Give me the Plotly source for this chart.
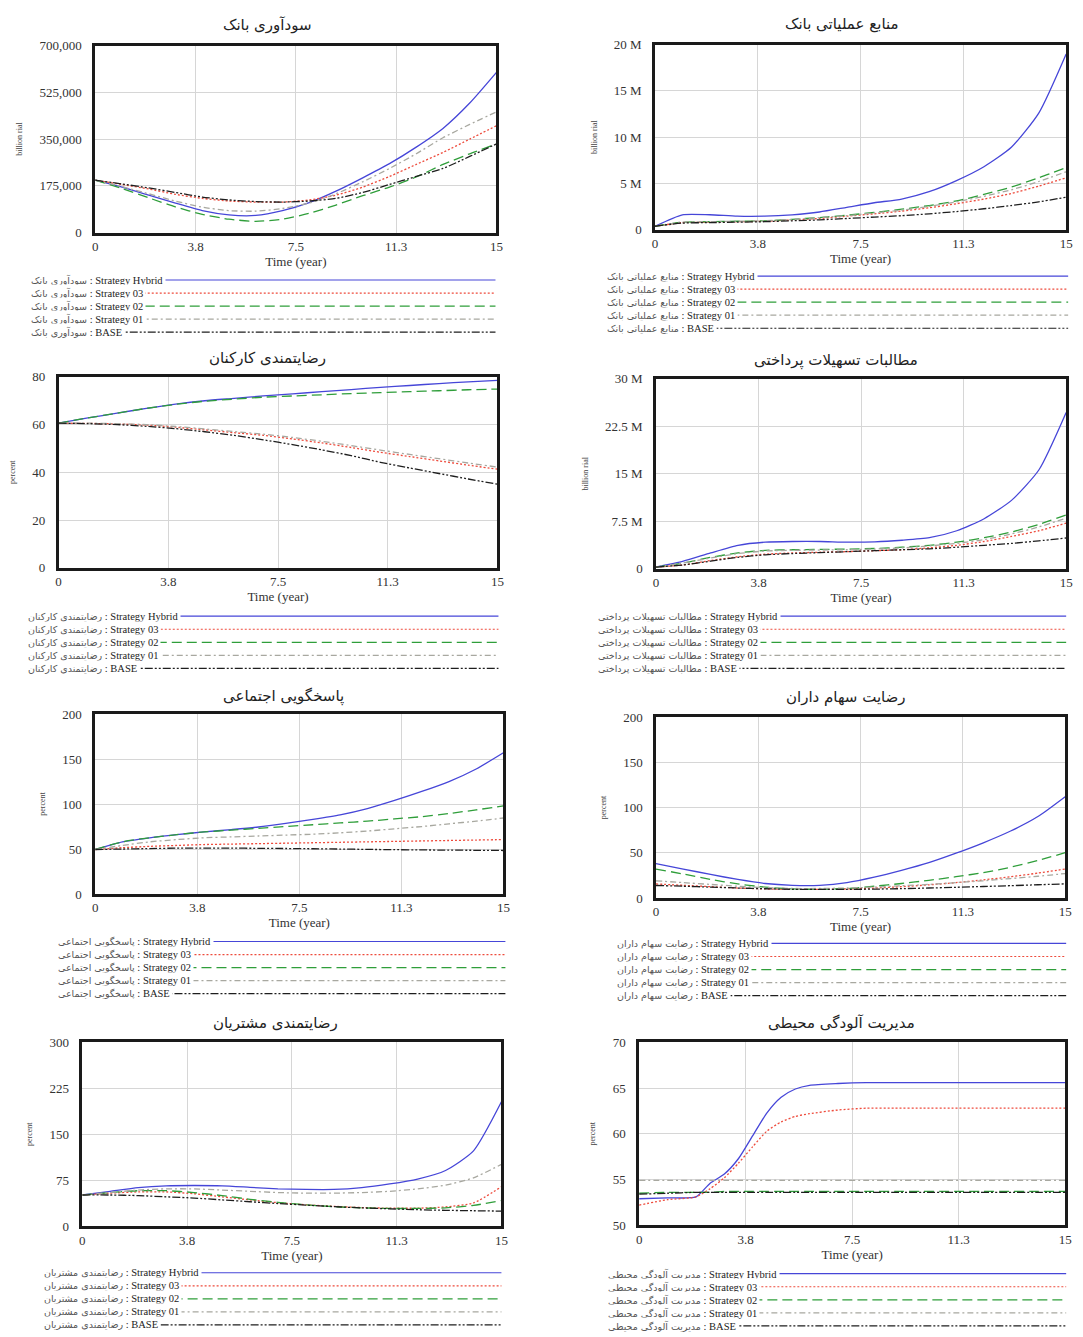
import plotly.graph_objects as go

# ---------------- data ----------------
time = [0, 1, 2, 3, 4, 5, 6, 7, 8, 9, 10, 11, 12, 13, 14, 15]
time_env = [0, 1, 2, 2.5, 3, 3.5, 4, 4.5, 5, 5.5, 6, 7, 8, 9, 10, 11, 12, 13, 14, 15]

series_names = ["Strategy Hybrid", "Strategy 03", "Strategy 02", "Strategy 01", "BASE"]

titles = [
    "سودآوری بانک",
    "منابع عملیاتی بانک",
    "رضایتمندی کارکنان",
    "مطالبات تسهیلات پرداختی",
    "پاسخگویی اجتماعی",
    "رضایت سهام داران",
    "رضایتمندی مشتریان",
    "مدیریت آلودگی محیطی",
]
y_units = ["billion rial", "billion rial", "percent", "billion rial",
           "percent", "percent", "percent", "percent"]

# 1  bank profitability (thousand)
profit_hybrid = [196, 170, 140, 110, 82, 66, 64, 82, 112, 155, 205, 258, 320, 390, 485, 600]
profit_s03 = [196, 180, 163, 143, 128, 118, 114, 114, 122, 140, 170, 210, 255, 300, 350, 400]
profit_s02 = [196, 165, 130, 96, 68, 50, 42, 50, 72, 103, 138, 170, 208, 255, 295, 332]
profit_s01 = [196, 172, 145, 118, 95, 82, 80, 90, 110, 145, 190, 240, 295, 355, 405, 452]
profit_base = [196, 182, 167, 150, 133, 122, 116, 114, 118, 128, 150, 180, 210, 240, 285, 332]

# 2  operating resources (million)
res_hybrid = [0.36, 1.6, 1.6, 1.45, 1.45, 1.6, 1.9, 2.4, 2.9, 3.3, 4.1, 5.3, 6.8, 8.9, 12.6, 19.0]
res_s03 = [0.36, 0.75, 0.8, 0.85, 0.9, 1.05, 1.2, 1.45, 1.7, 2.0, 2.35, 2.8, 3.3, 3.9, 4.7, 5.6]
res_s02 = [0.36, 0.8, 0.85, 0.9, 0.95, 1.1, 1.3, 1.55, 1.85, 2.2, 2.6, 3.1, 3.8, 4.6, 5.6, 6.7]
res_s01 = [0.36, 0.8, 0.85, 0.9, 0.95, 1.1, 1.3, 1.5, 1.8, 2.1, 2.5, 3.0, 3.6, 4.3, 5.2, 6.25]
res_base = [0.36, 0.7, 0.75, 0.8, 0.85, 0.95, 1.05, 1.2, 1.35, 1.5, 1.7, 1.95, 2.25, 2.6, 3.0, 3.5]

# 3  employee satisfaction
emp_hybrid = [60.6, 62.8, 64.8, 66.8, 68.6, 70, 71, 72, 72.9, 73.8, 74.7, 75.6, 76.4, 77.2, 77.9, 78.5]
emp_s03 = [60.6, 60.5, 60.3, 59.8, 58.9, 57.8, 56.6, 55.5, 54, 52.3, 50.4, 48.4, 46.6, 44.8, 43, 41.3]
emp_s02 = [60.6, 62.8, 64.8, 66.8, 68.5, 69.8, 70.7, 71.5, 72, 72.5, 73, 73.4, 73.8, 74.2, 74.6, 74.9]
emp_s01 = [60.6, 60.6, 60.4, 60, 59.2, 58.2, 57.1, 56, 54.6, 53, 51.2, 49.3, 47.5, 45.7, 43.9, 42.2]
emp_base = [60.6, 60.4, 60, 59.3, 58.3, 57, 55.5, 53.6, 51.6, 49.4, 47, 44.2, 41.8, 39.5, 37.2, 35]

# 4  receivables of paid facilities (million)
rec_hybrid = [0.26, 1.2, 2.5, 3.7, 4.2, 4.3, 4.3, 4.2, 4.25, 4.5, 4.9, 6.0, 7.9, 10.8, 15.6, 24.7]
rec_s03 = [0.26, 0.6, 1.3, 1.9, 2.3, 2.5, 2.6, 2.7, 2.85, 3.0, 3.3, 3.7, 4.3, 5.1, 6.0, 7.2]
rec_s02 = [0.26, 0.9, 1.8, 2.5, 2.9, 3.0, 3.05, 3.1, 3.2, 3.4, 3.7, 4.2, 4.9, 5.8, 7.0, 8.5]
rec_s01 = [0.26, 0.9, 1.7, 2.4, 2.8, 2.9, 2.95, 3.0, 3.1, 3.3, 3.6, 4.0, 4.6, 5.5, 6.6, 8.0]
rec_base = [0.26, 0.6, 1.2, 1.8, 2.2, 2.4, 2.55, 2.7, 2.85, 3.0, 3.15, 3.4, 3.7, 4.0, 4.4, 4.85]

# 5  social responsibility
soc_hybrid = [49.5, 58, 62.5, 66, 69, 71.6, 74.5, 78.5, 83, 88, 95, 104, 114, 125, 139, 157]
soc_s03 = [49.5, 51.5, 53, 54, 55, 55.5, 56, 56.5, 57, 57.5, 58, 58.5, 59, 59.5, 60, 60.5]
soc_s02 = [49.5, 58, 62.5, 66, 69, 71, 73, 75, 77, 79, 81, 83.5, 86, 89.5, 93.5, 98]
soc_s01 = [49.5, 54, 58, 60.5, 62.5, 63.5, 64.5, 65.5, 66.5, 68, 70, 72.5, 75, 78, 81, 84.5]
soc_base = [49.5, 50, 50.5, 51, 51, 51, 50.8, 50.6, 50.3, 50, 49.6, 49.3, 49, 48.8, 48.6, 48.4]

# 6  shareholder satisfaction
sh_hybrid = [38, 32, 26, 20.5, 16, 14, 14, 17, 23, 30.5, 39, 49.5, 61, 74, 90, 112]
sh_s03 = [15.5, 14, 12.5, 11, 10, 9.5, 9.5, 10, 11, 12.5, 14.5, 17, 20, 23.5, 27.5, 32]
sh_s02 = [32, 26.5, 20.5, 15.5, 12, 10, 9.5, 10.5, 13, 16, 19.5, 23.5, 28, 34, 41.5, 50]
sh_s01 = [19, 17, 15, 13, 11.5, 10.5, 10.5, 11, 12, 13.5, 15, 17, 19, 21.5, 24, 27]
sh_base = [13.8, 13, 12, 11, 10.2, 9.6, 9.4, 9.5, 9.8, 10.3, 11, 11.8, 12.7, 13.6, 14.6, 15.6]

# 7  customer satisfaction
cus_hybrid = [51, 57, 63, 66, 66.5, 66, 63.5, 61, 60, 60, 63, 69, 77, 91, 123, 203]
cus_s03 = [51, 54, 56, 56, 53, 48, 43, 38.5, 35, 32.5, 30.5, 29.5, 29.5, 31.5, 38, 64.5]
cus_s02 = [51, 55, 58, 58, 55, 50, 44, 39, 35, 32, 30, 29, 29, 30, 34, 42]
cus_s01 = [51, 55, 59, 61, 61, 59, 57, 55, 54, 54, 55, 57, 61, 67, 79, 101]
cus_base = [51, 51, 50, 48, 46, 43, 40, 37, 34.5, 32, 30, 28.5, 27, 26, 25.3, 24.7]

# 8  environmental pollution management
env_hybrid = [52.9, 53.0, 53.1, 54.6, 55.6, 57.3, 59.8, 62.3, 64.0, 64.9, 65.3, 65.5, 65.6,
              65.6, 65.6, 65.6, 65.6, 65.6, 65.6, 65.6]
env_s03 = [52.2, 52.8, 53.1, 54.0, 55.2, 56.8, 58.6, 60.3, 61.3, 61.9, 62.2, 62.6, 62.8,
           62.8, 62.8, 62.8, 62.8, 62.8, 62.8, 62.8]
env_s02 = [53.5, 53.6, 53.6, 53.6, 53.7, 53.7, 53.7, 53.7, 53.7, 53.7, 53.7, 53.7, 53.7,
           53.7, 53.7, 53.7, 53.7, 53.7, 53.7, 53.7]
env_s01 = [54.9, 54.9, 54.9, 54.9, 54.9, 54.9, 54.9, 54.9, 54.9, 54.9, 54.9, 54.9, 54.9,
           54.9, 54.9, 54.9, 54.9, 54.9, 54.9, 54.9]
env_base = [53.4, 53.5, 53.6, 53.6, 53.6, 53.6, 53.6, 53.6, 53.6, 53.6, 53.6, 53.6, 53.6,
            53.6, 53.6, 53.6, 53.6, 53.6, 53.6, 53.6]

x_tickvals = [0, 3.75, 7.5, 11.25, 15]
x_ticktext = ["0", "3.8", "7.5", "11.3", "15"]

y_ticks = [
    ([0, 175, 350, 525, 700], ["0", "175,000", "350,000", "525,000", "700,000"]),
    ([0, 5, 10, 15, 20], ["0", "5 M", "10 M", "15 M", "20 M"]),
    ([0, 20, 40, 60, 80], ["0", "20", "40", "60", "80"]),
    ([0, 7.5, 15, 22.5, 30], ["0", "7.5 M", "15 M", "22.5 M", "30 M"]),
    ([0, 50, 100, 150, 200], ["0", "50", "100", "150", "200"]),
    ([0, 50, 100, 150, 200], ["0", "50", "100", "150", "200"]),
    ([0, 75, 150, 225, 300], ["0", "75", "150", "225", "300"]),
    ([50, 55, 60, 65, 70], ["50", "55", "60", "65", "70"]),
]

panel_series = [
    (time, [profit_hybrid, profit_s03, profit_s02, profit_s01, profit_base]),
    (time, [res_hybrid, res_s03, res_s02, res_s01, res_base]),
    (time, [emp_hybrid, emp_s03, emp_s02, emp_s01, emp_base]),
    (time, [rec_hybrid, rec_s03, rec_s02, rec_s01, rec_base]),
    (time, [soc_hybrid, soc_s03, soc_s02, soc_s01, soc_base]),
    (time, [sh_hybrid, sh_s03, sh_s02, sh_s01, sh_base]),
    (time, [cus_hybrid, cus_s03, cus_s02, cus_s01, cus_base]),
    (time_env, [env_hybrid, env_s03, env_s02, env_s01, env_base]),
]

# ---------------- styles / layout ----------------
W, H = 1083, 1337
PAGE_OFFSET = 8  # default body margin of the html page
colors = ["#4646d8", "#ee4b3c", "#2f9e3a", "#a8a8a0", "#1e1e1e"]
dashes = ["solid", "2px,2px", "10px,5px", "6px,3px,2px,3px", "8px,2px,2px,2px,2px,2px"]

# box (left, right, top, bottom), title centre, legend (text left, first row y, line end)
geo = [
    dict(box=(93, 498, 39, 228), title=(267, 18), leg=(25, 276, 497)),
    dict(box=(658, 1073, 38, 225), title=(847, 17), leg=(607, 272, 1075)),
    dict(box=(56, 499, 374, 567), title=(267, 355), leg=(22, 616, 500)),
    dict(box=(659, 1073, 376, 568), title=(841, 357), leg=(597, 616, 1073)),
    dict(box=(93, 505, 715, 897), title=(283, 697), leg=(52, 945, 507)),
    dict(box=(659, 1072, 718, 901), title=(851, 698), leg=(617, 947, 1073)),
    dict(box=(80, 503, 1047, 1233), title=(275, 1027), leg=(38, 1280, 503)),
    dict(box=(642, 1072, 1047, 1232), title=(846, 1027), leg=(608, 1281, 1073)),
]
row_gap = 13.2

SERIF = "Liberation Serif, DejaVu Sans"


def fx(v):
    return (v - PAGE_OFFSET) / W


def fy(v):
    return 1 - (v - PAGE_OFFSET) / H


fig = go.Figure()
layout = dict(
    width=W, height=H, margin=dict(l=0, r=0, t=0, b=0),
    paper_bgcolor="white", plot_bgcolor="white", showlegend=False,
)
annotations = []
shapes = []

for i, (g, (xs, ys_list)) in enumerate(zip(geo, panel_series)):
    n = i + 1
    xa = "x" if n == 1 else f"x{n}"
    ya = "y" if n == 1 else f"y{n}"
    for k, ys in enumerate(ys_list):
        fig.add_trace(go.Scatter(
            x=xs, y=ys, mode="lines", name=series_names[k],
            xaxis=xa, yaxis=ya, showlegend=False,
            line=dict(color=colors[k], width=1.3, dash=dashes[k],
                      shape="spline", smoothing=0.6),
            hoverinfo="skip",
        ))
    l, r, t, b = g["box"]
    tv, tt = y_ticks[i]
    axis_common = dict(
        showline=True, mirror=True, linecolor="#1a1a1a", linewidth=2.5,
        showgrid=True, gridcolor="#d6d6d6", gridwidth=1, zeroline=False,
        ticks="", tickfont=dict(family=SERIF, size=13, color="#333"),
    )
    layout["xaxis" if n == 1 else f"xaxis{n}"] = dict(
        domain=[fx(l), fx(r)], anchor=ya, range=[0, 15],
        tickmode="array", tickvals=x_tickvals, ticktext=x_ticktext,
        ticklabelstandoff=0,
        title=dict(text="Time (year)", font=dict(family=SERIF, size=13, color="#333"), standoff=2),
        **axis_common,
    )
    layout["yaxis" if n == 1 else f"yaxis{n}"] = dict(
        domain=[fy(b), fy(t)], anchor=xa, range=[tv[0], tv[-1]],
        tickmode="array", tickvals=tv, ticktext=tt,
        ticklabelstandoff=8,
        title=dict(text=y_units[i], font=dict(family=SERIF, size=8, color="#444"), standoff=16),
        **axis_common,
    )
    # subplot title
    tx, ty = g["title"]
    annotations.append(dict(
        text=titles[i], xref="paper", yref="paper", x=fx(tx), y=fy(ty),
        xanchor="center", yanchor="middle", showarrow=False,
        font=dict(family="DejaVu Sans", size=15, color="#222"),
    ))
    # legend block (text + key line), drawn below each chart
    lx, ly, lend = g["leg"]
    for k, name in enumerate(series_names):
        yy = ly + k * row_gap
        shapes.append(dict(
            type="line", xref="paper", yref="paper",
            x0=fx(lx + 12), x1=fx(lend), y0=fy(yy), y1=fy(yy),
            line=dict(color=colors[k], width=1.2, dash=dashes[k]),
        ))
        annotations.append(dict(
            text=f"<span style='font-family:DejaVu Sans;font-size:9.5px;color:#555'>{titles[i]}</span>"
                 f" : {name}",
            xref="paper", yref="paper", x=fx(lx), y=fy(yy),
            xanchor="left", yanchor="middle", showarrow=False,
            bgcolor="white", borderpad=2,
            font=dict(family=SERIF, size=10.5, color="#222"),
        ))

layout["annotations"] = annotations
layout["shapes"] = shapes
fig.update_layout(**layout)
fig.write_html("out.html")
